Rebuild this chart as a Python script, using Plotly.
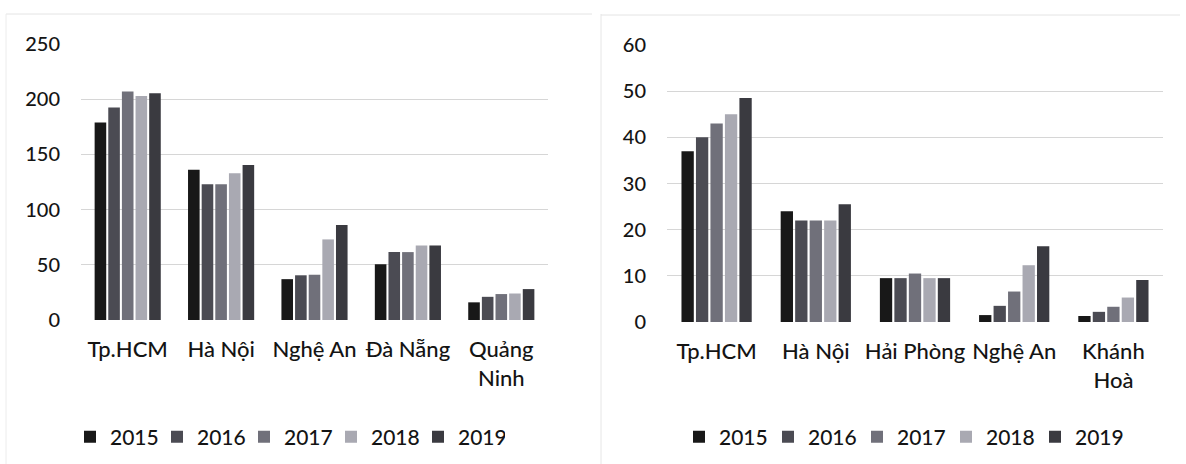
import plotly.graph_objects as go

# --- data -------------------------------------------------------------
years = ["2015", "2016", "2017", "2018", "2019"]

left_categories = ["Tp.HCM", "Hà Nội", "Nghệ An", "Đà Nẵng", "Quảng<br>Ninh"]
left_values = {
    "2015": [179, 136, 37, 50.5, 16],
    "2016": [192.5, 123, 40.5, 61.5, 21],
    "2017": [207, 123, 41, 61.5, 23.5],
    "2018": [203, 133, 73, 67.5, 24],
    "2019": [205.5, 140.5, 86, 67.5, 28],
}

right_categories = ["Tp.HCM", "Hà Nội", "Hải Phòng", "Nghệ An", "Khánh<br>Hoà"]
right_values = {
    "2015": [37, 24, 9.5, 1.5, 1.3],
    "2016": [40, 22, 9.5, 3.5, 2.2],
    "2017": [43, 22, 10.5, 6.6, 3.3],
    "2018": [45, 22, 9.5, 12.3, 5.3],
    "2019": [48.5, 25.5, 9.5, 16.4, 9.1],
}

year_colors = ["#181818", "#4b4b53", "#70707a", "#a9a9b2", "#3a3a40"]

# --- figure -----------------------------------------------------------
W, H = 1186, 464
FONT = "Lato, sans-serif"
TEXT = "#141414"

fig = go.Figure()

for i, y in enumerate(years):
    fig.add_trace(go.Bar(
        x=left_categories, y=left_values[y], name=y,
        marker=dict(color=year_colors[i], line=dict(width=0)),
        xaxis="x", yaxis="y", legend="legend",
    ))
for i, y in enumerate(years):
    fig.add_trace(go.Bar(
        x=right_categories, y=right_values[y], name=y,
        marker=dict(color=year_colors[i], line=dict(width=0)),
        xaxis="x2", yaxis="y2", legend="legend2",
    ))


def px_x(p):
    return p / W


def px_y(p):
    return 1 - p / H


xaxis_common = dict(
    showline=False, showgrid=False, zeroline=False, ticks="",
    tickfont=dict(family=FONT, size=22, color=TEXT, weight=500),
    tickangle=0, ticklabelstandoff=14, fixedrange=True,
)
yaxis_common = dict(
    showline=False, zeroline=False, ticks="",
    showgrid=True, gridcolor="#d6d6d6", gridwidth=1,
    tickfont=dict(family=FONT, size=20, color=TEXT, weight=500),
    ticklabelstandoff=20, fixedrange=True,
)

legend_common = dict(
    orientation="h", xanchor="left", yanchor="middle",
    font=dict(family=FONT, size=21, color=TEXT, weight=500),
    entrywidthmode="pixels",
    itemwidth=30, bgcolor="rgba(0,0,0,0)", traceorder="normal",
    itemclick=False, itemdoubleclick=False,
)

fig.update_layout(
    width=W, height=H,
    margin=dict(l=0, r=0, t=0, b=0, autoexpand=False),
    paper_bgcolor="white", plot_bgcolor="white",
    barmode="group", bargap=0.27, bargroupgap=0.15,
    font=dict(family=FONT, color=TEXT),
    xaxis=dict(domain=[px_x(81), px_x(548)], anchor="y", **xaxis_common),
    yaxis=dict(domain=[px_y(320), px_y(44)], anchor="x",
               range=[0, 250], dtick=50, **yaxis_common),
    xaxis2=dict(domain=[px_x(667), px_x(1163)], anchor="y2", **xaxis_common),
    yaxis2=dict(domain=[px_y(322), px_y(45)], anchor="x2",
                range=[0, 60], dtick=10, **yaxis_common),
    legend=dict(x=px_x(70), y=px_y(437), entrywidth=42, **legend_common),
    legend2=dict(x=px_x(679), y=px_y(437), entrywidth=44, **legend_common),
    shapes=[
        # faint chart frames
        dict(type="line", xref="paper", yref="paper",
             x0=px_x(6), x1=px_x(592), y0=px_y(14), y1=px_y(14),
             line=dict(color="#e4e4e4", width=1)),
        dict(type="line", xref="paper", yref="paper",
             x0=px_x(6), x1=px_x(6), y0=px_y(14), y1=px_y(464),
             line=dict(color="#ececec", width=1)),
        dict(type="line", xref="paper", yref="paper",
             x0=px_x(601), x1=px_x(601), y0=px_y(14), y1=px_y(464),
             line=dict(color="#e6e6e6", width=1)),
        dict(type="line", xref="paper", yref="paper",
             x0=px_x(601), x1=px_x(1180), y0=px_y(15), y1=px_y(15),
             line=dict(color="#e4e4e4", width=1)),
    ],
)

fig.write_html("out.html")
